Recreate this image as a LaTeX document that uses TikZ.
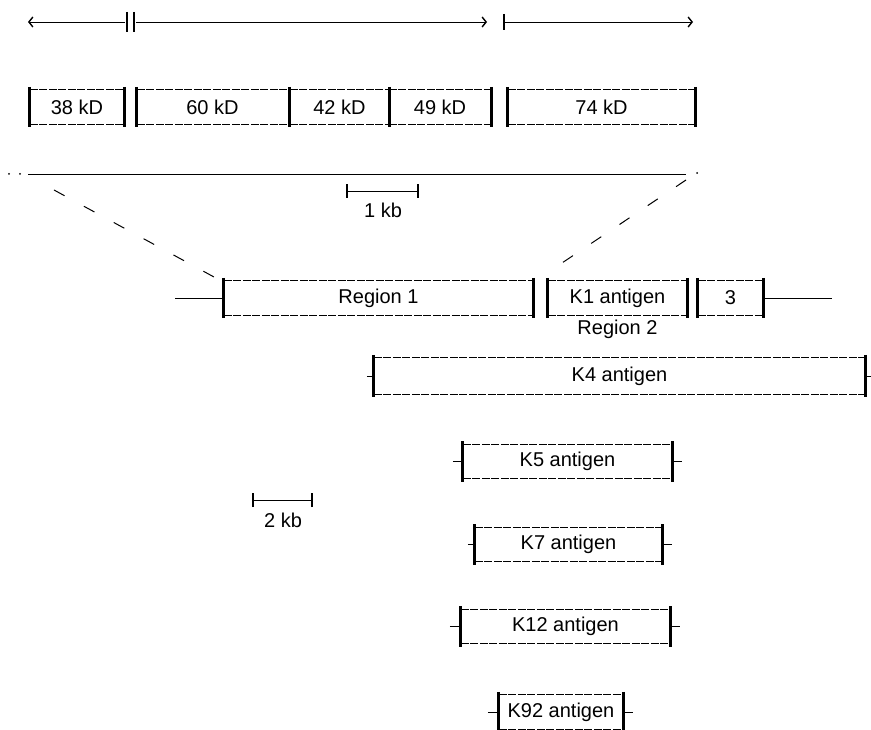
\documentclass[tikz,border=0pt]{standalone}
\usepackage{fontspec}
\setmainfont{Liberation Sans}
\usetikzlibrary{arrows.meta,positioning}
\tikzset{
  seg/.style={minimum height=34pt,inner sep=0pt,font=\fontsize{20}{20}\selectfont},
  lbl/.style={inner sep=0pt,font=\fontsize{20}{20}\selectfont},
  edge/.style={line width=0.7pt,dash pattern=on 8pt off 1.5pt},
  bar/.style={line width=3pt},
  rule/.style={line width=0.8pt},
  gap/.style={line width=1pt,dash pattern=on 12pt off 22pt},
  barb/.style={-{Straight Barb[length=4pt,width=10pt,line width=1.4pt]}}
}

\begin{document}
\begin{tikzpicture}[x=1pt,y=-1pt]
\useasboundingbox (0,0) rectangle (871,730);

% reading frames
\coordinate (a0) at (28,22);
\coordinate (a1) at (125,22);
\coordinate (b0) at (136,22);
\coordinate (b1) at (487,22);
\coordinate (c0) at (504,22);
\coordinate (c1) at (693,22);
\draw[rule,{Straight Barb[length=4pt,width=10pt,line width=1.4pt]}-] (a0) -- (a1);
\draw[bar,line width=2.4pt] ([xshift=2pt,yshift=10pt]a1) -- ([xshift=2pt,yshift=-10pt]a1)
  ([xshift=-2pt,yshift=10pt]b0) -- ([xshift=-2pt,yshift=-10pt]b0);
\draw[rule,barb] (b0) -- (b1);
\draw[bar,line width=2pt] ([yshift=8pt]c0) -- ([yshift=-8pt]c0);
\draw[rule,barb] (c0) -- (c1);

% proteins
\node[seg,minimum width=94pt] (s38) at (77,107) {38 kD};
\node[seg,minimum width=151pt] (s60) at (212.5,107) {60 kD};
\node[seg,minimum width=99pt] (s42) at (339.5,107) {42 kD};
\node[seg,minimum width=102pt] (s49) at (440,107) {49 kD};
\node[seg,minimum width=187pt] (s74) at (601.5,107) {74 kD};

% map line
\coordinate (m0) at (28,174);
\coordinate (m1) at (686,174);
\draw[rule] (m0) -- (m1);
\fill (9,174) circle (1pt) (20,174) circle (1pt) (697,173) circle (1pt);

% 1 kb scale
\coordinate (u0) at (347,191);
\coordinate (u1) at (418,191);
\draw[rule] (u0) -- (u1);
\draw[bar,line width=2pt] ([yshift=-7pt]u0) -- ([yshift=7pt]u0) ([yshift=-7pt]u1) -- ([yshift=7pt]u1);
\node[lbl] (kb1) at (383,210) {1 kb};

% regions
\node[seg,minimum width=309pt] (reg1) at (378.5,298) {Region 1};
\node[seg,minimum width=139pt] (k1) at (617.5,298) {K1 antigen};
\node[seg,minimum width=65pt] (r3) at (730.5,298) {3};
\node[lbl,below=5pt of k1] (reg2) {Region 2};
\coordinate (l0) at (175,298);
\coordinate (l1) at (832,298);
\draw[rule] (l0) -- (reg1.west);
\draw[rule] (r3.east) -- (l1);

% expansion
\coordinate (e0) at (54,190);
\coordinate (e1) at (214,277);
\coordinate (f0) at (686,180);
\coordinate (f1) at (547,273);
\draw[gap] (e0) -- (e1);
\draw[gap] (f0) -- (f1);

% region 2 of other antigens
\node[seg,minimum width=491pt,minimum height=36pt] (k4) at (619.5,376) {K4 antigen};
\node[seg,minimum width=209pt] (k5) at (567.5,461.5) {K5 antigen};
\node[seg,minimum width=187pt] (k7) at (568.5,544.5) {K7 antigen};
\node[seg,minimum width=209pt] (k12) at (565.5,626.5) {K12 antigen};
\node[seg,minimum width=124pt] (k92) at (561,712) {K92 antigen};

% 2 kb scale
\coordinate (v0) at (253,500);
\coordinate (v1) at (312,500);
\draw[rule] (v0) -- (v1);
\draw[bar,line width=2pt] ([yshift=-7pt]v0) -- ([yshift=7pt]v0) ([yshift=-7pt]v1) -- ([yshift=7pt]v1);
\node[lbl] (kb2) at (283,520) {2 kb};

% box edges
\foreach \n in {s38,s60,s42,s49,s74,reg1,k1,r3,k4,k5,k7,k12,k92}
  \draw[edge] (\n.north west) -- (\n.north east) (\n.south west) -- (\n.south east);
\foreach \n in {s38,s60,s42,s74,reg1,k1,r3,k4,k5,k7,k12,k92}
  \draw[bar] ([yshift=3pt]\n.north west) -- ([yshift=-3pt]\n.south west);
\foreach \n in {s38,s42,s49,s74,reg1,k1,r3,k4,k5,k7,k12,k92}
  \draw[bar] ([yshift=3pt]\n.north east) -- ([yshift=-3pt]\n.south east);

% flanking stubs
\foreach \n/\l/\r in {k4/7/6,k5/10/10,k7/7/10,k12/11/10,k92/11/10}
  \draw[rule] ([xshift=-\l pt]\n.west) -- (\n.west) (\n.east) -- ([xshift=\r pt]\n.east);

\end{tikzpicture}
\end{document}
